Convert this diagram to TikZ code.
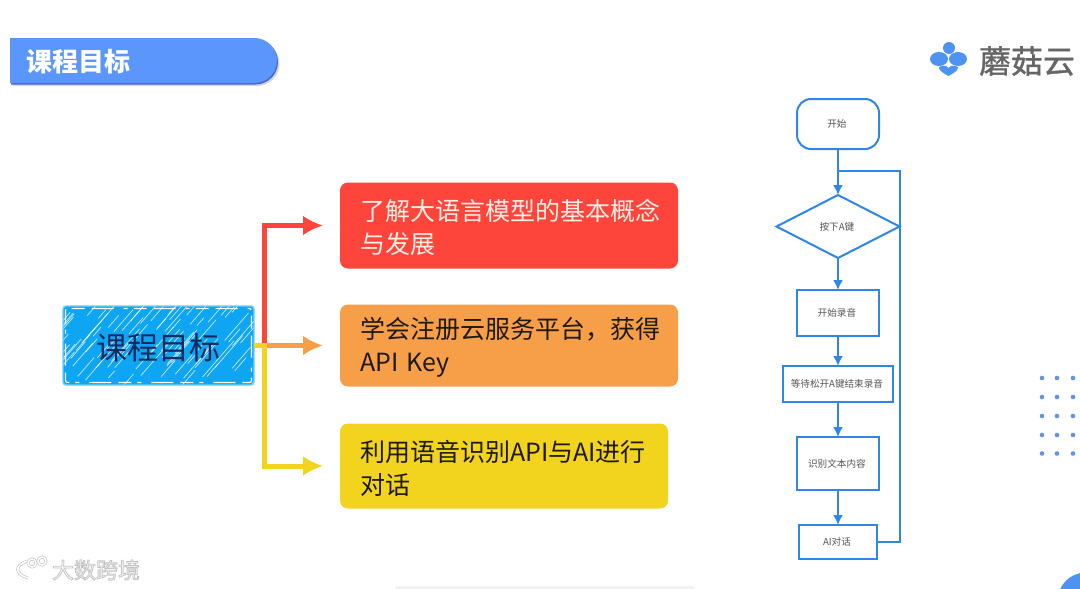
\documentclass[tikz,border=0pt]{standalone}
\usepackage{fontspec}
\usepackage{xcolor}
\usepackage{tikz}
\usetikzlibrary{
  arrows.meta,
  positioning,
  shapes.geometric,
  shadows,
  backgrounds
}
\setmainfont{Noto Sans CJK SC}
\newfontfamily\logofont[FakeBold=1.2]{Noto Sans CJK SC}
\definecolor{BannerBlue}{HTML}{5A96FC}
\definecolor{BannerShadow}{HTML}{3F5BC8}
\definecolor{TopicBlue}{HTML}{0EA5F2}
\definecolor{TopicEdge}{HTML}{6CCFF6}
\definecolor{TopicText}{HTML}{10295F}
\definecolor{GoalRed}{HTML}{FD453B}
\definecolor{GoalOrange}{HTML}{F69F48}
\definecolor{GoalYellow}{HTML}{F2D31E}
\definecolor{GoalWhite}{HTML}{FFEDE6}
\definecolor{GoalDark}{HTML}{1E1A10}
\definecolor{FlowBlue}{HTML}{2F86E6}
\definecolor{FlowText}{HTML}{555555}
\definecolor{LogoBlue}{HTML}{4F93F2}
\definecolor{LogoGray}{HTML}{666666}
\definecolor{DotBlue}{HTML}{5F94E8}
\definecolor{MarkGray}{HTML}{C4C4C4}
\tikzset{
  goal/.style={
    rounded corners=8pt,
    align=left,
    inner xsep=20pt,
    inner ysep=0pt,
    outer sep=0pt,
    text width=298pt,
    font=\fontsize{25}{33}\selectfont,
    execute at begin node={\rule{0pt}{25pt}}
  },
  goalarrow/.style={
    -{Latex[length=20pt,width=20pt]},
    line width=5pt,
    shorten >=17pt
  },
  flowbox/.style={
    draw=FlowBlue,
    line width=2pt,
    align=center,
    inner sep=0pt,
    outer sep=0pt,
    text=FlowText,
    minimum width=82pt,
    font=\fontsize{9.6}{12}\selectfont
  },
  flowdecision/.style={
    flowbox,
    diamond,
    aspect=1.95,
    minimum width=123pt,
    minimum height=63pt
  },
  flowarrow/.style={
    -{Latex[length=10pt,width=10pt]},
    draw=FlowBlue,
    line width=2pt
  },
  flowloop/.style={
    draw=FlowBlue,
    line width=2pt
  },
  hatchline/.style={
    draw=white,
    opacity=0.75,
    line width=0.7pt
  },
  markline/.style={
    draw=MarkGray,
    double=white,
    line width=0.7pt,
    double distance=1.5pt
  }
}
\begin{document}
\begin{tikzpicture}[x=1pt,y=-1pt]

  \useasboundingbox (0,0) rectangle (1080,589);

  \begin{scope}
    \clip (0,0) rectangle (1080,589);
    \fill[LogoBlue] (1086,601) circle[radius=28.5pt];
    \fill[black!5,rounded corners=3pt] (395,586) rectangle (695,594);
  \end{scope}

  \fill[
    BannerBlue,
    general shadow={
      shadow xshift=2.5pt,
      shadow yshift=-3pt,
      fill=BannerShadow,
      opacity=0.25
    },
    general shadow={
      shadow xshift=1pt,
      shadow yshift=-1.5pt,
      fill=BannerShadow,
      opacity=0.9
    }
  ] (10,38) -- (254.5,38) arc[start angle=-90,end angle=90,radius=22.5] -- (10,83) -- cycle;

  \node[
    text=white,
    font=\fontsize{26}{30}\bfseries\selectfont,
    inner sep=0pt,
    anchor=west
  ] (banner) at (26,62) {
    课程目标
  };

  \node[
    draw=TopicEdge,
    line width=1.4pt,
    rounded corners=3pt,
    text=TopicText,
    font=\fontsize{31}{36}\selectfont,
    minimum width=191pt,
    minimum height=79pt,
    inner sep=0pt,
    outer sep=0pt
  ] (topic) at (158.5,345.5) {
    \raisebox{-2.5pt}[\height][\depth]{课程目标}
  };

  \node[
    goal,
    fill=GoalOrange,
    text=GoalDark,
    minimum height=82pt,
    right=86pt of topic
  ] (goalApi) {
    学会注册云服务平台，获得\\
    API Key
  };

  \node[
    goal,
    fill=GoalRed,
    text=GoalWhite,
    minimum height=86pt,
    above=36pt of goalApi.north west,
    anchor=south west
  ] (goalBasics) {
    了解大语言模型的基本概念\\
    与发展
  };

  \node[
    goal,
    fill=GoalYellow,
    text=GoalDark,
    text width=288pt,
    minimum height=85pt,
    below=37pt of goalApi.south west,
    anchor=north west
  ] (goalChat) {
    利用语音识别API与AI进行\\
    对话
  };

  \begin{scope}[on background layer]
    \fill[white] (0,0) rectangle (1080,589);
    \fill[TopicBlue,rounded corners=3pt]
    (topic.south west) rectangle (topic.north east);
    \begin{scope}
      \clip (topic.south west) rectangle (topic.north east);
      \pgfmathsetseed{11}
      \foreach \n in {1,...,85}{
        \pgfmathsetmacro{\hx}{45+205*rnd}
        \pgfmathsetmacro{\hy}{312+80*rnd}
        \pgfmathsetmacro{\hl}{6+26*rnd}
        \draw[hatchline] (\hx,\hy) -- ++(\hl,-1.15*\hl);
      }
    \end{scope}
    \draw[
      white,
      line width=1.2pt,
      rounded corners=2pt,
      dash pattern=on 13pt off 6pt on 4pt off 10pt on 22pt off 7pt
    ] (65.5,308.5) rectangle (251.5,382.5);
  \end{scope}

  \coordinate[right=10pt of topic.east] (branch);

  \draw[goalarrow,draw=GoalOrange]
  (topic.east) --
  (goalApi.west);

  \draw[goalarrow,draw=GoalRed]
  (topic.east) --
  (branch) |-
  (goalBasics.west);

  \draw[goalarrow,draw=GoalYellow]
  (topic.east) --
  (branch) |-
  (goalChat.west);

  \node[
    flowbox,
    rounded corners=14pt,
    minimum height=50pt
  ] (start) at (838,124) {
    开始
  };

  \node[
    flowdecision,
    below=46pt of start
  ] (pressKey) {
    按下A键
  };

  \node[
    flowbox,
    minimum height=46pt,
    below=32pt of pressKey
  ] (record) {
    开始录音
  };

  \node[
    flowbox,
    minimum width=110pt,
    minimum height=36pt,
    below=30pt of record
  ] (release) {
    等待松开A键结束录音
  };

  \node[
    flowbox,
    minimum height=53pt,
    below=35pt of release
  ] (recognize) {
    识别文本内容
  };

  \node[
    flowbox,
    minimum width=78pt,
    minimum height=34pt,
    below=35pt of recognize
  ] (chat) {
    AI对话
  };

  \coordinate (loopJoin) at (838,171);

  \draw[flowarrow] (start) -- (pressKey);
  \draw[flowarrow] (pressKey) -- (record);
  \draw[flowarrow] (record) -- (release);
  \draw[flowarrow] (release) -- (recognize);
  \draw[flowarrow] (recognize) -- (chat);

  \draw[flowloop]
  (chat.east) -|
  (pressKey.east |- loopJoin) --
  (loopJoin);

  \fill[LogoBlue] (949,48) circle[radius=6pt];
  \fill[LogoBlue] (939,59) ellipse[x radius=9pt,y radius=7pt];
  \fill[LogoBlue] (958,59) ellipse[x radius=9pt,y radius=7pt];
  \fill[LogoBlue]
  (948.5,76) .. controls (941,72) and (935,67) .. (942,66)
  .. controls (945,65) and (947,66) .. (948.5,68)
  .. controls (950,66) and (952,65) .. (955,66)
  .. controls (962,67) and (956,72) .. (948.5,76);

  \node[
    text=LogoGray,
    font=\logofont\fontsize{32}{36}\selectfont,
    inner sep=0pt
  ] (logoText) at (1027,61) {
    蘑菇云
  };

  \foreach \dotx in {1042,1057,1073}{
    \foreach \doty in {378,397,416,435,453.5}{
      \fill[DotBlue] (\dotx,\doty) circle[radius=2.3pt];
    }
  }

  \draw[markline] (12,560) -- (12,577);
  \draw[markline] (27,561) .. controls (14,566) and (15,574) .. (28,578);
  \draw[markline] (32,563) circle[radius=4pt];
  \draw[markline] (42,561) circle[radius=4pt];

  \node[
    text=white,
    font=\fontsize{22}{26}\selectfont,
    inner sep=0pt
  ] (markText) at (96,570) {
    \special{pdf:code 2 Tr 0.77 G 0.8 w}大数跨境\special{pdf:code 0 Tr}
  };

\end{tikzpicture}
\end{document}
